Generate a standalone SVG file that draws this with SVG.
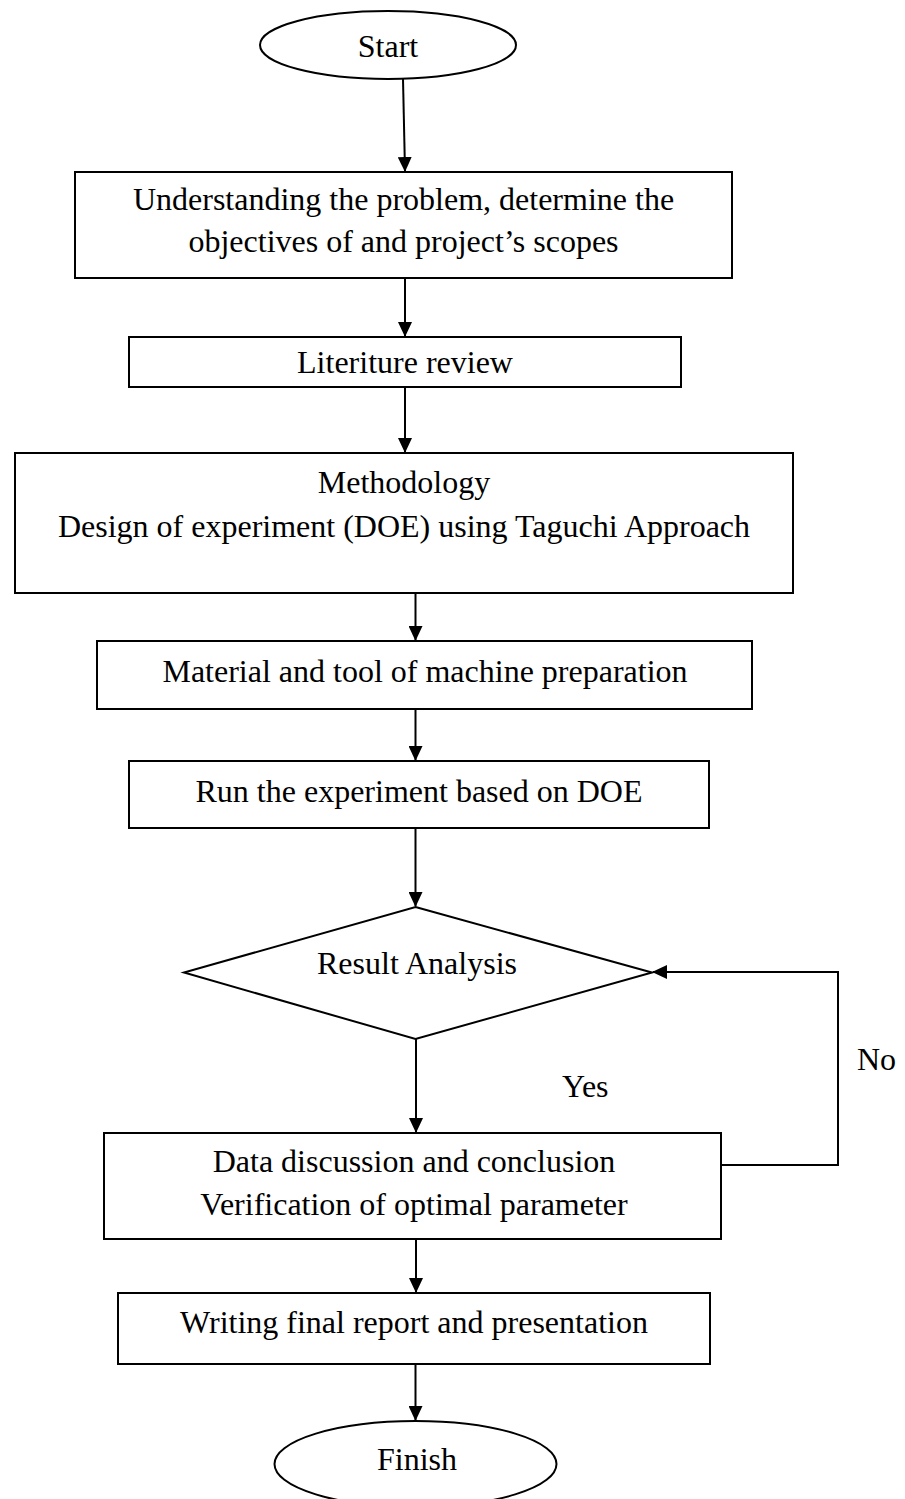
<svg xmlns="http://www.w3.org/2000/svg" width="905" height="1499" viewBox="0 0 905 1499">
<defs>
<marker id="arr" viewBox="0 0 15 14" refX="14" refY="7" markerWidth="15" markerHeight="14" markerUnits="userSpaceOnUse" orient="auto">
<path d="M0,0 L15,7 L0,14 z" fill="#000"/>
</marker>
<style>
.shape{fill:#fff;stroke:#000;stroke-width:2}
.t{font-family:"Liberation Serif","Times New Roman",serif;font-size:32px;fill:#000;text-anchor:middle}
.lbl{font-family:"Liberation Serif","Times New Roman",serif;font-size:32px;fill:#000}
.c{fill:none;stroke:#000;stroke-width:2}
</style>
</defs>
<rect width="905" height="1499" fill="#fff"/>
<g id="connectors">
<line class="c" x1="403" y1="79" x2="405" y2="171" marker-end="url(#arr)"/>
<line class="c" x1="405" y1="278" x2="405" y2="336" marker-end="url(#arr)"/>
<line class="c" x1="405" y1="387" x2="405" y2="452" marker-end="url(#arr)"/>
<line class="c" x1="415.5" y1="593" x2="415.5" y2="640" marker-end="url(#arr)"/>
<line class="c" x1="415.5" y1="709" x2="415.5" y2="760" marker-end="url(#arr)"/>
<line class="c" x1="415.5" y1="828" x2="415.5" y2="906" marker-end="url(#arr)"/>
<line class="c" x1="416" y1="1039" x2="416" y2="1132" marker-end="url(#arr)"/>
<line class="c" x1="416" y1="1239" x2="416" y2="1292" marker-end="url(#arr)"/>
<line class="c" x1="415.5" y1="1364" x2="415.5" y2="1420" marker-end="url(#arr)"/>
<polyline class="c" points="721,1165 838,1165 838,972 653,972" marker-end="url(#arr)"/>
<text class="lbl" x="562" y="1097">Yes</text>
<text class="lbl" x="857" y="1070">No</text>
</g>
<g id="start">
<ellipse class="shape" cx="388" cy="45" rx="128" ry="34"/>
<text class="t" x="388" y="57">Start</text>
</g>
<g id="understand">
<rect class="shape" x="75" y="172" width="657" height="106"/>
<text class="t" x="403.5" y="210">Understanding the problem, determine the</text>
<text class="t" x="403.5" y="252">objectives of and project’s scopes</text>
</g>
<g id="literature">
<rect class="shape" x="129" y="337" width="552" height="50"/>
<text class="t" x="405" y="373">Literiture review</text>
</g>
<g id="methodology">
<rect class="shape" x="15" y="453" width="778" height="140"/>
<text class="t" x="404" y="493">Methodology</text>
<text class="t" x="404" y="537">Design of experiment (DOE) using Taguchi Approach</text>
</g>
<g id="material">
<rect class="shape" x="97" y="641" width="655" height="68"/>
<text class="t" x="425" y="682">Material and tool of machine preparation</text>
</g>
<g id="run">
<rect class="shape" x="129" y="761" width="580" height="67"/>
<text class="t" x="419" y="802">Run the experiment based on DOE</text>
</g>
<g id="result">
<polygon class="shape" points="415.5,907 652,972.5 415.5,1039 184,972.5"/>
<text class="t" x="417" y="974">Result Analysis</text>
</g>
<g id="data">
<rect class="shape" x="104" y="1133" width="617" height="106"/>
<text class="t" x="414" y="1172">Data discussion and conclusion</text>
<text class="t" x="414" y="1215">Verification of optimal parameter</text>
</g>
<g id="writing">
<rect class="shape" x="118" y="1293" width="592" height="71"/>
<text class="t" x="414" y="1333">Writing final report and presentation</text>
</g>
<g id="finish">
<ellipse class="shape" cx="415.5" cy="1464" rx="141" ry="43"/>
<text class="t" x="417" y="1470">Finish</text>
</g>
</svg>
